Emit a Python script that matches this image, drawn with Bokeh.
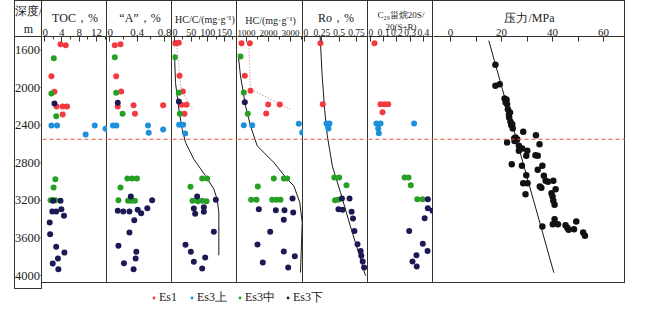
from bokeh.plotting import figure
from bokeh.models import (Range1d, FixedTicker, Span, Legend, LegendItem)
from bokeh.layouts import row, column
from bokeh.embed import file_html
from bokeh.resources import INLINE
from bokeh.core.properties import value

FONT = "Liberation Serif"
LINE = "#34342a"
RED, BLUE, GREEN, NAVY = "#f23a40", "#1d8fdb", "#25a025", "#1b1a55"
SERIES = ["Es1", "Es3上", "Es3中", "Es3下"]
COLORS = [RED, BLUE, GREEN, NAVY]

# ---------------- data ----------------
DEPTH_TICKS = [1600, 2000, 2400, 2800, 3200, 3600, 4000]
BOUNDARY_DEPTH = 2550

# TOC, %
toc_es1_d = [1538, 1549, 1879, 2045, 2200, 2200, 2200, 2287]
toc_es1_v = [3.7, 4.9, 1.6, 2.3, 2.8, 4.2, 5.2, 4.2]
toc_up_d = [2403, 2403, 2499, 2403, 2439]
toc_up_v = [1.6, 2.9, 9.5, 11.6, 14.1]
toc_mid_d = [1687, 2063, 2305, 2975, 3063, 3199, 3199, 3199]
toc_mid_v = [2.15, 1.6, 2.7, 2.5, 2.1, 1.4, 1.9, 2.5]
toc_low_d = [2169, 3205, 3205, 3319, 3319, 3294, 3365, 3436, 3560, 3695, 3756, 3819, 3872, 3933]
toc_low_v = [2.3, 2.0, 3.7, 1.8, 2.7, 3.9, 4.5, 1.2, 1.3, 2.7, 4.6, 3.1, 1.9, 3.2]

# "A", %
a_es1_d = [1549, 1538, 1879, 2042, 2201, 2188, 2279, 2188]
a_es1_v = [0.077, 0.16, 0.097, 0.17, 0.12, 0.35, 0.37, 0.78]
a_up_d = [2403, 2403, 2403, 2481, 2446]
a_up_v = [0.05, 0.10, 0.56, 0.57, 0.78]
a_mid_d = [1677, 2055, 2279, 2968, 2968, 2968, 3063, 3199, 3205, 3205, 3205]
a_mid_v = [0.077, 0.097, 0.19, 0.26, 0.33, 0.40, 0.16, 0.13, 0.27, 0.32, 0.37]
a_low_d = [2162, 3159, 3199, 3312, 3319, 3319, 3300, 3337, 3283, 3411, 3542, 3684, 3748, 3819, 3869, 3933]
a_low_v = [0.12, 0.31, 0.62, 0.12, 0.20, 0.29, 0.41, 0.46, 0.55, 0.36, 0.29, 0.13, 0.39, 0.38, 0.21, 0.35]

# HC/C, mg/g
hcc_es1_d = [1528, 1528, 1522, 1875, 2042, 2183, 2183, 2279]
hcc_es1_v = [1, 6, 13, 15, 25, 21, 36, 30]
hcc_up_d = [2396, 2396, 2489]
hcc_up_v = [14, 26, 32]
hcc_mid_d = [1677, 2055, 2279, 2968, 2968, 3056, 3205, 3210, 3205, 3210]
hcc_mid_v = [1, 13, 16, 83, 98, 48, 54, 70, 83, 96]
hcc_low_d = [2148, 3159, 3194, 3287, 3343, 3273, 3322, 3535, 3673, 3748, 3854, 3808, 3926]
hcc_low_v = [13, 68, 124, 58, 62, 88, 88, 118, 33, 49, 58, 92, 83]
hcc_curve_d = [1650, 1946, 2230, 2443, 2584, 2762, 2939, 3081, 3188, 3330, 3784]
hcc_curve_v = [0, 3, 13, 23, 33, 58, 93, 118, 128, 133, 133]
hcc_es1_trend_d = [1520, 2017, 2230]
hcc_es1_trend_v = [6, 20, 53]

# HC, mg/g
hc_es1_d = [1528, 1528, 1875, 2034, 2180, 2180, 2276]
hc_es1_v = [773, 1150, 923, 1182, 1986, 2514, 1895]
hc_up_d = [2400, 2400, 2385, 2478]
hc_up_v = [877, 1259, 3377, 3532]
hc_mid_d = [1670, 2052, 2279, 3052, 2968, 2968, 2968, 3194, 3194, 3194, 3194, 3194]
hc_mid_v = [727, 877, 1059, 1514, 2241, 2695, 2850, 1214, 1455, 2168, 2364, 2545]
hc_low_d = [2155, 3180, 3294, 3305, 3305, 3407, 3330, 3535, 3671, 3745, 3795, 3862, 3915]
hc_low_v = [923, 3091, 1559, 2332, 2727, 2695, 3123, 2077, 1500, 2695, 3195, 1741, 2895]
hc_curve_d = [1640, 1875, 2194, 2407, 2620, 2797, 2975, 3045, 3223, 3436, 3968]
hc_curve_v = [620, 727, 955, 1182, 1486, 2241, 2850, 3150, 3423, 3532, 3455]
hc_es1_trend_d = [1520, 2017, 2230]
hc_es1_trend_v = [1105, 1182, 3000]

# Ro, %
ro_es1_d = [1528, 2177]
ro_es1_v = [0.23, 0.264]
ro_up_d = [2382, 2382, 2414, 2435]
ro_up_v = [0.317, 0.36, 0.34, 0.346]
ro_mid_d = [2957, 2957, 3039, 3199, 3195]
ro_mid_v = [0.43, 0.50, 0.606, 0.44, 0.486]
ro_low_d = [3180, 3180, 3294, 3300, 3322, 3393, 3525, 3667, 3738, 3791, 3851, 3915]
ro_low_v = [0.54, 0.65, 0.49, 0.55, 0.68, 0.70, 0.72, 0.765, 0.81, 0.82, 0.84, 0.86]
ro_curve_d = [1460, 1875, 2230, 2513, 2832, 3117, 3471, 3755, 4003]
ro_curve_v = [0.226, 0.255, 0.29, 0.329, 0.401, 0.52, 0.66, 0.78, 0.88]

# C29 sterane 20S/20(S+R)
c29_es1_d = [1528, 2177, 2177, 2177, 2262]
c29_es1_v = [0.03, 0.076, 0.106, 0.134, 0.091]
c29_up_d = [2382, 2382, 2435, 2485, 2382]
c29_up_v = [0.045, 0.076, 0.058, 0.063, 0.33]
c29_mid_d = [2957, 2957, 3039, 3188, 3188]
c29_mid_v = [0.258, 0.288, 0.305, 0.354, 0.394]
c29_low_d = [3188, 3283, 3312, 3390, 3525, 3663, 3738, 3784, 3851, 3904]
c29_low_v = [0.434, 0.434, 0.47, 0.41, 0.293, 0.396, 0.432, 0.348, 0.318, 0.35]

# Pressure, MPa
p_d = [1758, 1981, 1964, 2116, 2130, 2159, 2177, 2230, 2265, 2283,
       2318, 2364, 2390, 2400, 2435, 2471, 2506, 2531, 2549, 2567,
       2584, 2540, 2555, 2602, 2620, 2648, 2673, 2673, 2720, 2726,
       2726, 2815, 2832, 2832, 2875, 2932, 2939, 2992, 3003, 2992,
       3017, 3017, 3053, 3067, 3081, 3124, 3135, 3159, 3205, 3248,
       3401, 3454, 3454, 3478, 3465, 3492, 3514, 3507, 3425, 3542, 3578]
p_v = [17.6, 17.6, 19.3, 21.2, 22.0, 21.6, 22.2, 22.5, 23.3, 22.9,
       23.0, 23.5, 24.2, 23.8, 24.4, 28.5, 33.5, 25.5, 26.1, 25.1,
       22.2, 25.0, 26.0, 34.9, 26.8, 28.1, 26.8, 30.1, 33.3, 29.7,
       34.2, 24.0, 28.0, 36.0, 34.2, 29.7, 36.6, 37.3, 38.2, 40.3,
       28.5, 30.2, 35.0, 35.6, 41.2, 39.6, 29.4, 40.0, 40.3, 40.8,
       40.8, 40.1, 42.1, 36.0, 45.1, 45.8, 46.3, 48.4, 49.3, 52.0, 52.7]
p_line_d = [1500, 3970]
p_line_v = [15.0, 40.5]

# ---------------- layout ----------------
TOP = 30
FH = 253
Y_RANGE = Range1d(4149, 1456)
SH_R = "inset -1px 0 0 %s" % LINE
SH_T = "inset 0 1px 0 %s" % LINE
SH_B = "inset 0 -1px 0 %s" % LINE
SH_L = "inset 1px 0 0 %s" % LINE


def base_fig(width, x_start, x_end, extra_shadow=None):
    sh = [SH_R, SH_T, SH_B] + ([extra_shadow] if extra_shadow else [])
    p = figure(frame_width=width, frame_height=FH,
               x_range=Range1d(x_start, x_end), y_range=Y_RANGE,
               x_axis_location="above", y_axis_location=None,
               output_backend="svg", toolbar_location=None,
               min_border_left=0, min_border_right=0,
               min_border_top=TOP, min_border_bottom=0,
               outline_line_color=None, border_fill_color=None,
               background_fill_color=None,
               styles={"box-shadow": ", ".join(sh)})
    p.grid.visible = False
    return p


def style_axis(p, title, ticks, minor, overrides=None, title_size="12px",
               tick_size="11px", title_standoff=1):
    ax = p.xaxis[0]
    ax.ticker = FixedTicker(ticks=ticks, minor_ticks=minor)
    ax.axis_label = title
    ax.axis_label_text_font = FONT
    ax.axis_label_text_font_style = "normal"
    ax.axis_label_text_font_size = title_size
    ax.axis_label_text_color = "#222222"
    ax.axis_label_standoff = title_standoff
    ax.major_label_text_font = FONT
    ax.major_label_text_font_size = tick_size
    ax.major_label_text_color = "#222222"
    ax.major_label_standoff = 1
    ax.major_tick_in = 5
    ax.major_tick_out = 0
    ax.minor_tick_in = 3
    ax.minor_tick_out = 0
    ax.axis_line_color = LINE
    ax.major_tick_line_color = LINE
    ax.minor_tick_line_color = LINE
    if overrides:
        ax.major_label_overrides = overrides


def add_points(p, groups, size=6):
    for (vals, depths), color in zip(groups, COLORS):
        p.scatter(x=vals, y=depths, size=size, color=color, line_color=None)


def add_boundary(p):
    p.add_layout(Span(location=BOUNDARY_DEPTH, dimension="width",
                      line_color="#e8552e", line_dash="4 3", line_width=1))


# left blank margin before the outer frame
pad = figure(width=14, height=TOP + FH, output_backend="svg", toolbar_location=None,
             min_border=0, outline_line_color=None, x_axis_location=None,
             y_axis_location=None, border_fill_color=None, background_fill_color=None)
pad.grid.visible = False

# depth label column
f_depth = base_fig(28, 0, 28, extra_shadow=SH_L)
style_axis(f_depth, "深度/", [14], [], overrides={14: "m"}, title_size="12px", tick_size="12px")
f_depth.xaxis[0].major_tick_line_color = None
f_depth.text(x=25.5, y=DEPTH_TICKS, text=[str(d) for d in DEPTH_TICKS],
             text_align="right", text_baseline="middle",
             text_font=value(FONT), text_font_size="12.5px", text_color="#222222")
f_depth.segment(x0=26, y0=DEPTH_TICKS, x1=28, y1=DEPTH_TICKS, line_color=LINE)

# TOC
f_toc = base_fig(65, -0.46, 14.55)
style_axis(f_toc, "TOC，%", [0, 4, 8, 12], [2, 6, 10, 14])
add_points(f_toc, [(toc_es1_v, toc_es1_d), (toc_up_v, toc_up_d),
                   (toc_mid_v, toc_mid_d), (toc_low_v, toc_low_d)])
add_boundary(f_toc)

# "A"
f_a = base_fig(65, -0.029, 0.916)
style_axis(f_a, "“A”，%", [0, 0.4, 0.8], [0.2, 0.6], overrides={0: "0"})
add_points(f_a, [(a_es1_v, a_es1_d), (a_up_v, a_up_d),
                 (a_mid_v, a_mid_d), (a_low_v, a_low_d)])
add_boundary(f_a)

# HC/C
f_hcc = base_fig(65, -6, 189)
style_axis(f_hcc, "HC/C/(mg·g⁻¹)", [0, 50, 100, 150], [25, 75, 125, 175],
           title_size="10px", tick_size="10px")
f_hcc.line(hcc_es1_trend_v, hcc_es1_trend_d, line_color="#c98a8a", line_dash="1 2", line_width=1.2)
f_hcc.line(hcc_curve_v, hcc_curve_d, line_color="#1a1a1a", line_width=1)
add_points(f_hcc, [(hcc_es1_v, hcc_es1_d), (hcc_up_v, hcc_up_d),
                   (hcc_mid_v, hcc_mid_d), (hcc_low_v, hcc_low_d)])
add_boundary(f_hcc)

# HC
f_hc = base_fig(66, 591, 3591)
style_axis(f_hc, "HC/(mg·g⁻¹)", [1000, 2000, 3000], [1500, 2500, 3500],
           title_size="10px", tick_size="9px")
f_hc.line(hc_es1_trend_v, hc_es1_trend_d, line_color="#c98a8a", line_dash="1 2", line_width=1.2)
f_hc.line(hc_curve_v, hc_curve_d, line_color="#1a1a1a", line_width=1)
add_points(f_hc, [(hc_es1_v, hc_es1_d), (hc_up_v, hc_up_d),
                  (hc_mid_v, hc_mid_d), (hc_low_v, hc_low_d)])
add_boundary(f_hc)

# Ro
f_ro = base_fig(65, -0.0144, 0.9235)
style_axis(f_ro, "Ro，%", [0, 0.25, 0.5, 0.75], [], overrides={0: "0"},
           tick_size="9.5px")
f_ro.line(ro_curve_v, ro_curve_d, line_color="#1a1a1a", line_width=1)
add_points(f_ro, [(ro_es1_v, ro_es1_d), (ro_up_v, ro_up_d),
                  (ro_mid_v, ro_mid_d), (ro_low_v, ro_low_d)])
add_boundary(f_ro)

# C29 20S/20(S+R)  (two-line header, squeezed like the original)
f_c29 = base_fig(65, -0.0152, 0.477)
style_axis(f_c29, "C₂₉甾烷20S/\n20(S+R)", [0, 0.1, 0.2, 0.3, 0.4], [], overrides={0: "0"},
           title_size="9px", tick_size="9.5px", title_standoff=-6)
add_points(f_c29, [(c29_es1_v, c29_es1_d), (c29_up_v, c29_up_d),
                   (c29_mid_v, c29_mid_d), (c29_low_v, c29_low_d)])
add_boundary(f_c29)

# Pressure
f_p = base_fig(192, -6.67, 68.6)
style_axis(f_p, "压力/MPa", [0, 20, 40, 60], [10, 30, 50])
f_p.xaxis[0].minor_tick_in = 5
f_p.line(p_line_v, p_line_d, line_color="#1a1a1a", line_width=1)
f_p.scatter(x=p_v, y=p_d, size=6.5, color="#111111", line_color=None)
add_boundary(f_p)

# legend strip
lg = figure(width=625, height=22, x_range=Range1d(0, 1), y_range=Range1d(0, 1),
            output_backend="svg", toolbar_location=None, min_border=0,
            outline_line_color=None, x_axis_location=None, y_axis_location=None,
            border_fill_color=None, background_fill_color=None)
lg.grid.visible = False
items = []
for name, color in zip(SERIES, COLORS):
    # a single off-canvas sample so the legend swatch picks up the colour
    r = lg.scatter(x=[-5], y=[-5], size=5, color=color, line_color=None)
    items.append(LegendItem(label=name, renderers=[r]))
legend = Legend(items=items, orientation="horizontal", location=(150, 5),
                border_line_color=None, background_fill_color=None,
                glyph_width=7, glyph_height=7, label_standoff=2, spacing=9,
                padding=0, margin=0,
                label_text_font=FONT, label_text_font_size="12px",
                label_text_color="#222222")
lg.add_layout(legend)

layout = column(row(pad, f_depth, f_toc, f_a, f_hcc, f_hc, f_ro, f_c29, f_p), lg)

open("out.html", "w").write(file_html(layout, INLINE))
